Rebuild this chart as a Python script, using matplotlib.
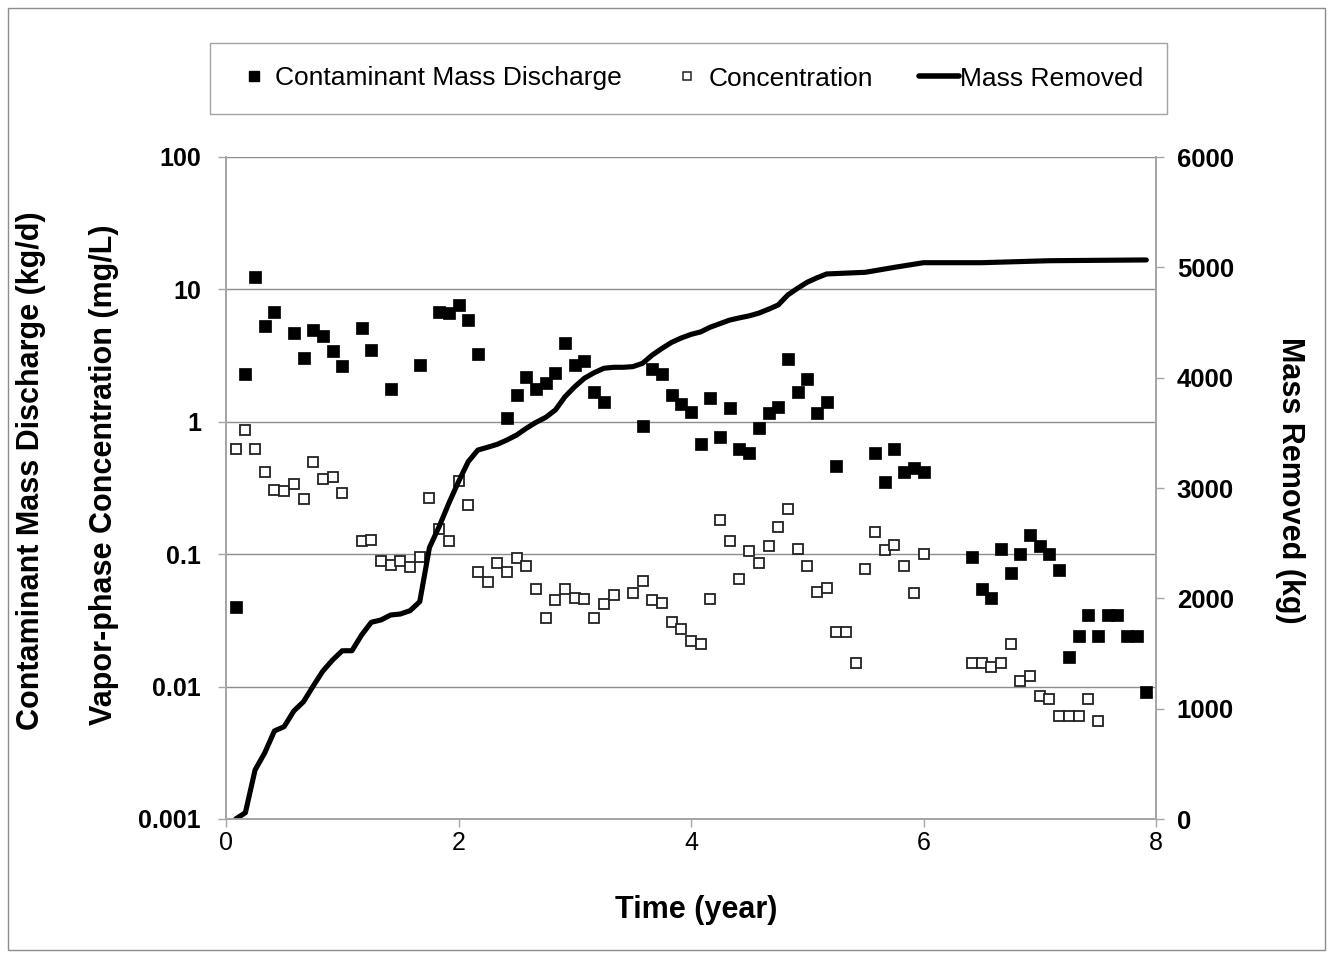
import numpy as np
import matplotlib
matplotlib.use("Agg")
import matplotlib.pyplot as plt
from matplotlib.lines import Line2D
from matplotlib.patches import Rectangle

plt.rcParams["font.family"] = ["Liberation Sans", "DejaVu Sans"]

# monthly sampling (month index from start); converted to years below
discharge_month = [1, 2, 3, 4, 5, 7, 8, 9, 10, 11, 12, 14, 15, 17, 20, 22, 23, 24, 25, 26,
                   29, 30, 31, 32, 33, 34, 35, 36, 37, 38, 39, 43, 44, 45, 46, 47, 48, 49, 50,
                   51, 52, 53, 54, 55, 56, 57, 58, 59, 60, 61, 62, 63, 67, 68, 69, 70, 71, 72,
                   77, 78, 79, 80, 81, 82, 83, 84, 85, 86, 87, 88, 89, 90, 91, 92, 93, 94, 95]
discharge_kgd = [0.040, 2.30, 12.5, 5.3, 6.8, 4.7, 3.05, 4.9, 4.47, 3.42, 2.64, 5.08, 3.49,
                 1.78, 2.67, 6.8, 6.6, 7.6, 5.85, 3.27,
                 1.06, 1.58, 2.18, 1.78, 1.95, 2.32, 3.96, 2.68, 2.88, 1.68, 1.41, 0.935, 2.51,
                 2.30, 1.58, 1.36, 1.18, 0.676, 1.52,
                 0.767, 1.27, 0.627, 0.578, 0.90, 1.16, 1.29, 2.97, 1.67, 2.12, 1.16, 1.40,
                 0.467, 0.58, 0.35, 0.62, 0.42, 0.45, 0.42,
                 0.096, 0.055, 0.047, 0.11, 0.072, 0.10, 0.139, 0.115, 0.10, 0.076, 0.0166,
                 0.0243, 0.035, 0.0243, 0.035, 0.035, 0.0243, 0.0243, 0.0091]

conc_month = [1, 2, 3, 4, 5, 6, 7, 8, 9, 10, 11, 12, 14, 15, 16, 17, 18, 19, 20, 21, 22, 23,
              24, 25, 26, 27, 28, 29, 30, 31, 32, 33, 34, 35, 36, 37, 38, 39, 40, 42, 43, 44,
              45, 46, 47, 48, 49, 50, 51, 52, 53, 54, 55, 56, 57, 58, 59, 60, 61, 62, 63, 64,
              65, 66, 67, 68, 69, 70, 71, 72, 77, 78, 79, 80, 81, 82, 83, 84, 85, 86, 87, 88,
              89, 90]
conc_mgl = [0.62, 0.87, 0.62, 0.42, 0.305, 0.30, 0.337, 0.26, 0.50, 0.37, 0.38, 0.29, 0.125,
            0.128, 0.089, 0.083, 0.089, 0.080, 0.096, 0.268, 0.154, 0.126,
            0.36, 0.234, 0.074, 0.062, 0.086, 0.073, 0.093, 0.082, 0.055, 0.033, 0.045, 0.055,
            0.047, 0.046, 0.033, 0.042, 0.049, 0.051, 0.063, 0.045,
            0.043, 0.031, 0.027, 0.022, 0.021, 0.046, 0.181, 0.125, 0.065, 0.106, 0.086, 0.115,
            0.161, 0.221, 0.109, 0.082, 0.052, 0.056, 0.026, 0.026,
            0.015, 0.077, 0.146, 0.108, 0.117, 0.081, 0.051, 0.10, 0.015, 0.015, 0.014, 0.015,
            0.021, 0.011, 0.012, 0.0085, 0.008, 0.006, 0.006, 0.006,
            0.008, 0.0055]

removed_month = [1, 2, 3, 4, 5, 6, 7, 8, 9, 10, 11, 12, 13, 14, 15, 16, 17, 18, 19, 20, 21,
                 22, 23, 24, 25, 26, 27, 28, 29, 30, 31, 32, 33, 34, 35, 36, 37, 38, 39, 40,
                 41, 42, 43, 44, 45, 46, 47, 48, 49, 50, 51, 52, 53, 54, 55, 56, 57, 58, 59,
                 60, 61, 62, 66, 69, 72, 78, 85, 95]
removed_kg = [0, 57, 444, 600, 798, 837, 979, 1063, 1205, 1341, 1441, 1525, 1525, 1668, 1783,
              1804, 1849, 1858, 1888, 1970, 2460,
              2650, 2861, 3057, 3238, 3344, 3369, 3396, 3435, 3480, 3541, 3595, 3640, 3707,
              3828, 3918, 3995, 4045, 4085, 4094,
              4094, 4100, 4130, 4205, 4265, 4320, 4360, 4392, 4415, 4458, 4490, 4522, 4542,
              4560, 4585, 4620, 4659, 4750, 4810,
              4865, 4905, 4940, 4955, 5000, 5042, 5042, 5060, 5067]

t_dis = np.array(discharge_month) / 12
t_conc = np.array(conc_month) / 12
t_rem = np.array(removed_month) / 12

GRID = "#8c8c8c"
SPINE = "#a6a6a6"

fig = plt.figure(figsize=(13.33, 9.58), dpi=100)
ax = fig.add_axes([226/1333, 1-819/958, (1156-226)/1333, (819-157)/958])
ax2 = ax.twinx()

ax.plot(t_dis, discharge_kgd, ls="none", marker="s", ms=8, mfc="black", mec="black", mew=0.5,
        zorder=3)
ax.plot(t_conc, conc_mgl, ls="none", marker="s", ms=7.2, mfc="white", mec="#222222", mew=1.3,
        zorder=3)
ax2.plot(t_rem, removed_kg, color="black", lw=3.7, solid_capstyle="round",
         solid_joinstyle="round")

ax.set_yscale("log")
ax.set_ylim(0.001, 100)
ax.set_xlim(0, 8)
ax2.set_ylim(0, 6000)
ax.set_xticks([0, 2, 4, 6, 8])
ax.set_yticks([0.001, 0.01, 0.1, 1, 10, 100])
ax.set_yticklabels(["0.001", "0.01", "0.1", "1", "10", "100"])
ax.minorticks_off()
ax2.set_yticks(range(0, 6001, 1000))

ax.grid(axis="y", color=GRID, lw=1)
ax.set_axisbelow(True)

for a in (ax, ax2):
    a.spines["top"].set_visible(False)
    for s in ("left", "right", "bottom"):
        a.spines[s].set_color(SPINE)
        a.spines[s].set_linewidth(1.3)

ax.tick_params(axis="y", direction="out", length=6, width=1, color=SPINE, pad=12,
               labelsize=18)
ax.tick_params(axis="x", direction="out", length=6, width=1, color=SPINE, pad=3,
               labelsize=18)
ax2.tick_params(axis="y", direction="out", length=6, width=1, color=SPINE, pad=9,
                labelsize=18.5)
for lab in ax.get_yticklabels() + ax2.get_yticklabels():
    lab.set_fontweight("bold")

fig.text(31/1333, 1-471/958, "Contaminant Mass Discharge (kg/d)", rotation=90,
         ha="center", va="center", fontsize=22, fontweight="bold")
fig.text(104/1333, 1-475/958, "Vapor-phase Concentration (mg/L)", rotation=90,
         ha="center", va="center", fontsize=22, fontweight="bold")
fig.text(1290/1333, 1-480/958, "Mass Removed (kg)", rotation=270,
         ha="center", va="center", fontsize=22, fontweight="bold")
fig.text(696/1333, 1-910/958, "Time (year)", ha="center", va="center",
         fontsize=22, fontweight="bold")

handles = [
    Line2D([], [], ls="none", marker="s", ms=6.5, mfc="black", mec="black"),
    Line2D([], [], ls="none", marker="s", ms=6, mfc="white", mec="#222222", mew=1.1),
    Line2D([], [], color="black", lw=4, solid_capstyle="round"),
]
labels = ["Contaminant Mass Discharge", "Concentration", "Mass Removed"]
leg = fig.legend(handles, labels, loc="center", ncol=3, mode="expand",
                 bbox_to_anchor=(210/1333, 1-115/958, (1167-210)/1333, 73/958),
                 borderaxespad=0, fontsize=19, frameon=True, fancybox=False,
                 borderpad=0.9, handlelength=1.5, handletextpad=0.05, columnspacing=1.0)
leg.get_frame().set_edgecolor("#8c8c8c")
leg.get_frame().set_linewidth(1)

fig.patches.append(Rectangle((8/1333, 8/958), 1317/1333, 942/958, transform=fig.transFigure,
                             fill=False, ec="#8c8c8c", lw=1))

fig.savefig("out.png", dpi=100)
